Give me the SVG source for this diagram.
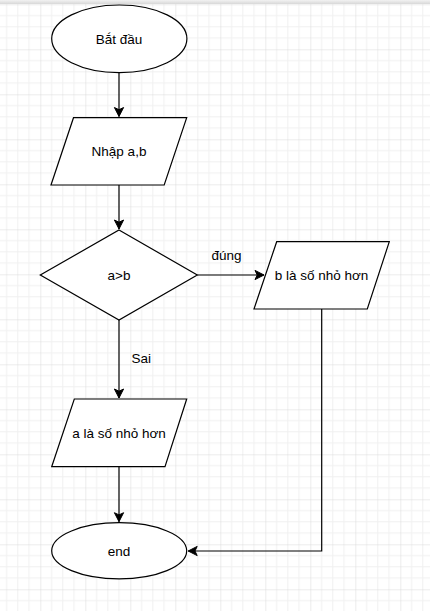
<svg xmlns="http://www.w3.org/2000/svg" width="430" height="611" viewBox="0 0 430 611">
  <style>
    .shape { fill: #ffffff; stroke: #000000; stroke-width: 1.2; }
    .label { font-family: "Liberation Sans", Arial, sans-serif; font-size: 13.5px; fill: #000000; text-anchor: middle; }
    .edge { fill: none; stroke: #000000; stroke-width: 1.2; }
    .elabel { font-family: "Liberation Sans", Arial, sans-serif; font-size: 13.5px; fill: #000000; }
  </style>
  <defs>
    <pattern id="grid" patternUnits="userSpaceOnUse" x="40.3" y="4.3" width="45" height="45">
      <path d="M11.25 0V45M22.5 0V45M33.75 0V45M0 11.25H45M0 22.5H45M0 33.75H45" stroke="#f0f0f0" stroke-width="1" fill="none"/>
      <path d="M0 0V45M0 0H45" stroke="#d9d9d9" stroke-width="1" fill="none"/>
    </pattern>
    <linearGradient id="bar" x1="0" y1="0" x2="0" y2="1">
      <stop offset="0" stop-color="#f2f2f2"/>
      <stop offset="1" stop-color="#d8d8d8"/>
    </linearGradient>
    <marker id="arrow" markerUnits="userSpaceOnUse" markerWidth="12" markerHeight="12" viewBox="-10 -6 12 12" refX="0" refY="0" orient="auto">
      <path d="M0 0 L-9 -4.6 L-6.8 0 L-9 4.6 Z" fill="#000000" stroke="#000000" stroke-width="1"/>
    </marker>
  </defs>

  <rect x="0" y="0" width="430" height="611" fill="#ffffff"/>
  <rect x="0" y="4" width="430" height="607" fill="url(#grid)"/>
  <rect x="0" y="0" width="430" height="4" fill="url(#bar)"/>

  <g id="connectors">
    <path class="edge" d="M119 72.7 V116.5" marker-end="url(#arrow)"/>
    <path class="edge" d="M119 185 V229" marker-end="url(#arrow)"/>
    <path class="edge" d="M197.3 275 H264" marker-end="url(#arrow)"/>
    <path class="edge" d="M119 320 V398" marker-end="url(#arrow)"/>
    <path class="edge" d="M119 466.7 V521.7" marker-end="url(#arrow)"/>
    <path class="edge" d="M321.7 309 V551 H188.2" marker-end="url(#arrow)"/>
    <text class="elabel" x="211.5" y="260">đúng</text>
    <text class="elabel" x="131.5" y="363">Sai</text>
  </g>

  <g id="start">
    <ellipse class="shape" cx="119.3" cy="38.8" rx="67.6" ry="33.8"/>
    <text class="label" x="119" y="44">Bắt đầu</text>
  </g>

  <g id="input">
    <polygon class="shape" points="73.5,117.7 186.7,117.7 164.2,185 51,185"/>
    <text class="label" x="119" y="156">Nhập a,b</text>
  </g>

  <g id="decision">
    <polygon class="shape" points="119,230 197.3,275 119,320 40.3,275"/>
    <text class="label" x="119" y="280">a&gt;b</text>
  </g>

  <g id="outB">
    <polygon class="shape" points="276.7,241.7 389.3,241.7 367.3,309 254,309"/>
    <text class="label" x="321.5" y="280">b là số nhỏ hơn</text>
  </g>

  <g id="outA">
    <polygon class="shape" points="74.3,399 186.7,399 165,466.7 51.7,466.7"/>
    <text class="label" x="119" y="437.5">a là số nhỏ hơn</text>
  </g>

  <g id="end">
    <ellipse class="shape" cx="119.2" cy="550.8" rx="67.5" ry="28.1"/>
    <text class="label" x="119" y="555.5">end</text>
  </g>
</svg>
